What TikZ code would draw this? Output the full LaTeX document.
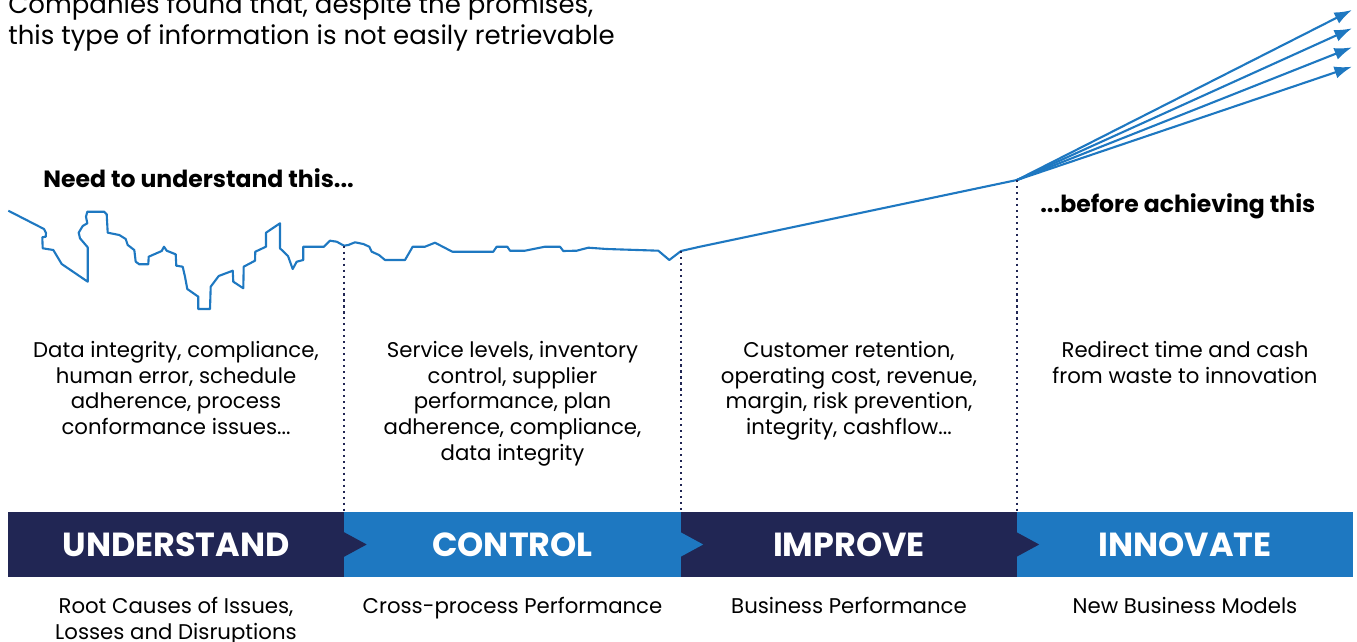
\documentclass[tikz,border=0pt]{standalone}
\usepackage{fontspec}
\setmainfont{Poppins}
\usetikzlibrary{arrows.meta}
\definecolor{navy}{HTML}{212654}
\definecolor{sky}{HTML}{1E78C1}

\begin{document}
\begin{tikzpicture}[x=0.02cm,y=-0.02cm,>={Latex[length=10pt,width=7pt]},
  trend/.style={sky,line width=1.2pt,line join=round},
  sep/.style={navy,line width=0.8pt,dash pattern=on 1.2pt off 2.2pt},
  bar/.style={minimum width=6.74cm,minimum height=1.3cm,inner sep=0pt,text=white,font=\fontsize{19}{22}\selectfont\bfseries},
  info/.style={align=center,inner sep=0pt,font=\fontsize{12.1}{14.6}\selectfont},
  head/.style={inner sep=0pt,font=\fontsize{13.4}{16}\selectfont\bfseries}]
  \useasboundingbox (0,0) rectangle (1357,642);

  \node (intro) [anchor=south west,inner sep=0pt,align=left,font=\fontsize{14.8}{18}\selectfont] at (8,52)
    {Companies found that, despite the promises,\\this type of information is not easily retrievable};
  \node (need) [head,anchor=west] at (43,178) {Need to understand this...};
  \node (goal) [head,anchor=west] at (1040,206) {...before achieving this};

  % the rough road up to the peak
  \draw[trend] (8.3,210.7) -- (44,229) -- (46,233) -- (45.7,236.7) -- (42.3,237.3) -- (42.7,248.3)
    -- (53.3,250) -- (61.7,264) -- (87.7,281.7) -- (87.7,247.3) -- (80,238.3) -- (78.7,232.7)
    -- (82.7,226) -- (87.3,223.3) -- (86,216.7) -- (87.3,211.7) -- (104,211.7) -- (106.7,214.3)
    -- (107.7,232.7) -- (119.3,235) -- (125.7,239) -- (127.7,245) -- (134.3,250) -- (135.7,261.7)
    -- (139.3,264.3) -- (148.3,264.3) -- (148.7,256.7) -- (161.7,251) -- (164,246.7) -- (166.7,250.7)
    -- (175.7,254.3) -- (176.3,265.7) -- (182.7,266.7) -- (185,276.7) -- (187.3,289) -- (198.3,296.7)
    -- (198.3,309) -- (210,309) -- (210.7,286.7) -- (218.7,276) -- (232.7,270.7) -- (233.3,281.7)
    -- (243.3,288.3) -- (243.7,266.7) -- (255,260.7) -- (255.3,251.7) -- (266,246.7) -- (266,232.7)
    -- (280,223.3) -- (280,248.3) -- (288,256) -- (292.7,269) -- (296.7,261.7) -- (303.3,260)
    -- (303.3,246.7) -- (324,246.7) -- (330,240.7) -- (336.7,241.7) -- (344,245.7) coordinate (d1)
    -- (348.3,245) -- (355,242.3) -- (363.3,244) -- (369.3,246.7) -- (371.7,251.7) -- (379,255)
    -- (385,260) -- (405,260) -- (412.7,246.7) -- (425,246.7) -- (435,242.7) -- (452.3,251.7)
    -- (493.3,251.7) -- (496.7,246.7) -- (507.3,246.7) -- (510,250.7) -- (525,250.7) -- (545,246.7)
    -- (560,246.7) -- (563.3,251) -- (576.7,250.7) -- (588.3,247.7) -- (606.7,249) -- (658.3,250.7)
    -- (669.3,260) -- (681,251) coordinate (d2) -- (700,246.7) -- (1017,180) coordinate (peak);

  \foreach \ty [count=\i] in {10,28.3,47.3,66.7} {
    \coordinate (tip\i) at (1352,\ty);
    \draw[trend,->] (peak) -- (tip\i);
  }

  \node (und) [bar,fill=navy] at (176,544.5) {UNDERSTAND};
  \node (ctl) [bar,fill=sky] at (512.5,544.5) {CONTROL};
  \node (imp) [bar,fill=navy] at (849,544.5) {IMPROVE};
  \node (inn) [bar,fill=sky] at (1185,544.5) {INNOVATE};
  \fill[navy] (ctl.west) ++(0,-12.5) -- ++(23,12.5) -- ++(-23,12.5) -- cycle;
  \fill[sky] (imp.west) ++(0,-12.5) -- ++(23,12.5) -- ++(-23,12.5) -- cycle;
  \fill[navy] (inn.west) ++(0,-12.5) -- ++(23,12.5) -- ++(-23,12.5) -- cycle;

  \draw[sep] (d1) -- (d1 |- ctl.north);
  \draw[sep] (d2) -- (d2 |- imp.north);
  \draw[sep] (peak) -- (peak |- inn.north);

  \node (undtxt) [info,anchor=north] at (176,341) {Data integrity, compliance,\\human error, schedule\\adherence, process\\conformance issues...};
  \node (ctltxt) [info,anchor=north] at (512.5,341) {Service levels, inventory\\control, supplier\\performance, plan\\adherence, compliance,\\data integrity};
  \node (imptxt) [info,anchor=north] at (849,341) {Customer retention,\\operating cost, revenue,\\margin, risk prevention,\\integrity, cashflow...};
  \node (inntxt) [info,anchor=north] at (1185,341) {Redirect time and cash\\from waste to innovation};

  \node (undsub) [info,anchor=north] at (176,597) {Root Causes of Issues,\\Losses and Disruptions};
  \node (ctlsub) [info,anchor=north] at (512.5,597) {Cross-process Performance};
  \node (impsub) [info,anchor=north] at (849,597) {Business Performance};
  \node (innsub) [info,anchor=north] at (1185,597) {New Business Models};
\end{tikzpicture}
\end{document}
